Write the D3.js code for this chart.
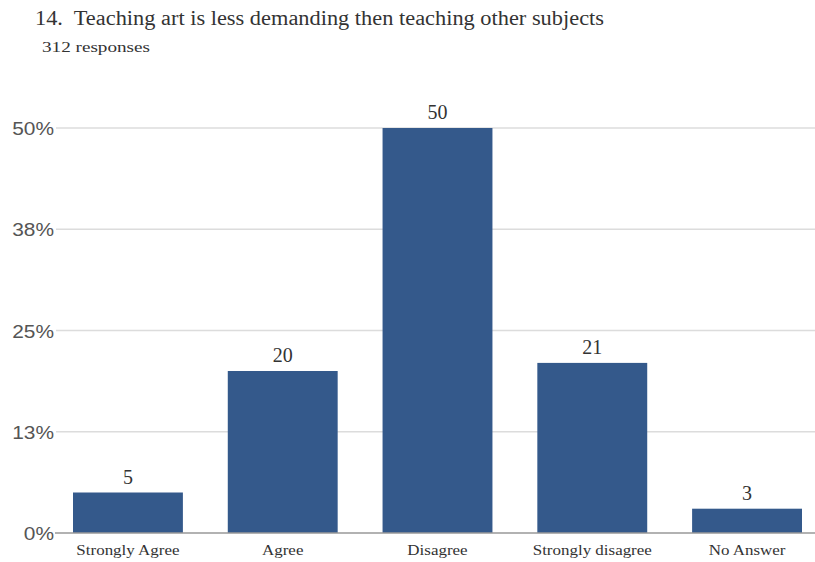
<!DOCTYPE html>
<html><head><meta charset="utf-8">
<script src="https://cdn.jsdelivr.net/npm/d3@7"></script>
<style>body{margin:0;background:#fff} text{white-space:pre}</style>
</head><body>
<svg id="c" width="815" height="562"></svg>
<script>
const categories = ["Strongly Agree","Agree","Disagree","Strongly disagree","No Answer"];
const values = [5,20,50,21,3];
const tickValues = [0,12.5,25,37.5,50];
const tickLabels = ["0%","13%","25%","38%","50%"];
const title = "14.  Teaching art is less demanding then teaching other subjects";
const subtitle = "312 responses";

const svg = d3.select("#c");
const serif = "'Liberation Serif','Times New Roman',serif";
const sans = "'Liberation Sans',Arial,sans-serif";

const y = d3.scaleLinear().domain([0,50]).range([533,128]);
const x = d3.scaleBand().domain(categories).range([73,802]).paddingInner(0.29).paddingOuter(0);

function stretch(sel, k){
  sel.each(function(){
    const w = this.getComputedTextLength();
    d3.select(this).attr("textLength", w*k).attr("lengthAdjust","spacingAndGlyphs");
  });
}

svg.append("text").attr("x",35).attr("y",25).attr("font-family",serif).attr("font-size",20).attr("fill","#333")
  .attr("xml:space","preserve").text(title)
  .attr("textLength",569).attr("lengthAdjust","spacingAndGlyphs");
svg.append("text").attr("x",42).attr("y",52).attr("font-family",serif).attr("font-size",15).attr("fill","#333")
  .text(subtitle).attr("textLength",108).attr("lengthAdjust","spacingAndGlyphs");

// gridlines
svg.append("g").selectAll("line").data(tickValues.slice(1)).join("line")
  .attr("x1",56).attr("x2",815).attr("y1",d=>y(d)).attr("y2",d=>y(d))
  .attr("stroke","#dcdcdc").attr("stroke-width",1.5);

// y labels
svg.append("g").selectAll("text").data(tickValues).join("text")
  .attr("x",54).attr("y",d=>y(d)+7).attr("text-anchor","end")
  .attr("font-family",sans).attr("font-size",19).attr("fill","#555")
  .text((d,i)=>tickLabels[i]).call(stretch,1.1);

// bars
svg.append("g").selectAll("rect").data(values).join("rect")
  .attr("x",(d,i)=>x(categories[i])).attr("width",x.bandwidth())
  .attr("y",d=>y(d)).attr("height",d=>y(0)-y(d))
  .attr("fill","#34598b");

// baseline
svg.append("line").attr("x1",55).attr("x2",815).attr("y1",y(0)).attr("y2",y(0))
  .attr("stroke","#999").attr("stroke-width",1.5);

// value labels
svg.append("g").selectAll("text").data(values).join("text")
  .attr("x",(d,i)=>x(categories[i])+x.bandwidth()/2).attr("y",d=>y(d)-9)
  .attr("text-anchor","middle").attr("font-family",serif).attr("font-size",20).attr("fill","#333")
  .text(d=>d);

// category labels
svg.append("g").selectAll("text").data(categories).join("text")
  .attr("x",d=>x(d)+x.bandwidth()/2).attr("y",555)
  .attr("text-anchor","middle").attr("font-family",serif).attr("font-size",15).attr("fill","#333")
  .text(d=>d).call(stretch,1.13);
</script>
</body></html>
